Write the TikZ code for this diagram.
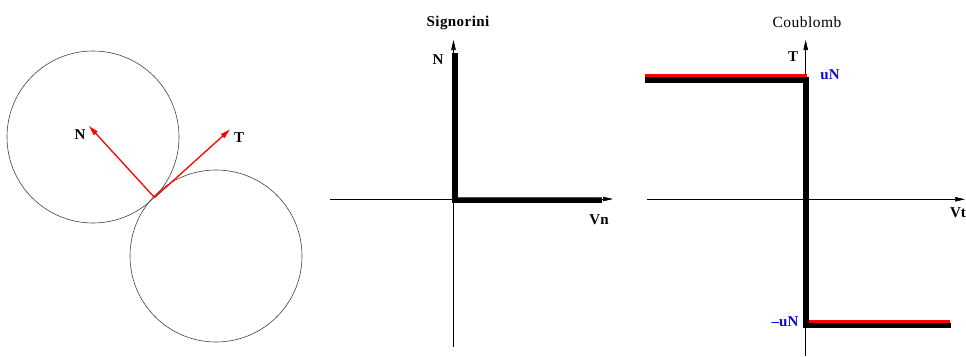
\documentclass[tikz,border=0pt]{standalone}
\usepackage{fontspec}
\setmainfont{Liberation Serif}
\usetikzlibrary{arrows.meta}
\definecolor{lblblue}{RGB}{10,10,210}
\definecolor{vred}{RGB}{255,0,0}
\begin{document}
\begin{tikzpicture}[x=1pt,y=-1pt,
  lbl/.style={font=\fontsize{15}{17}\selectfont\bfseries, inner sep=0pt},
  ttl/.style={font=\fontsize{15.5}{17}\selectfont\addfontfeature{LetterSpace=3}, inner sep=0pt},
  axis/.style={line width=0.6pt, -{Triangle[length=10pt,width=4.5pt]}},
  vec/.style={vred, line width=1.3pt, -{Triangle[length=10pt,width=5pt]}},
  thick curve/.style={line width=5.3pt, line join=miter},
  redline/.style={vred, line width=2.8pt}]
\useasboundingbox (0,0) rectangle (966,356);
% ---- left: two disks in contact
\node[draw=black!75, line width=0.6pt, circle, minimum size=172pt, inner sep=0pt] (c1) at (93,137) {};
\node[draw=black!75, line width=0.6pt, circle, minimum size=172pt, inner sep=0pt] (c2) at (216,256) {};
\coordinate (P) at (154.5,197.5);
\coordinate (Ntip) at (89,126);
\coordinate (Ttip) at (230,129.5);
\draw[vec] (P) -- (Ntip);
\draw[vec] (P) -- (Ttip);
\node[lbl] (Nl) at (80,135) {N};
\node[lbl] (Tl) at (239,138) {T};
% ---- Signorini
\coordinate (s-o) at (453.5,199);
\coordinate (s-xl) at (330,199);
\coordinate (s-xr) at (613,199);
\coordinate (s-yb) at (453.5,347);
\coordinate (s-yt) at (453.5,40);
\draw[axis] (s-xl) -- (s-xr);
\draw[axis] (s-yb) -- (s-yt);
\coordinate (s-a) at (455,53);
\coordinate (s-b) at (455,200);
\coordinate (s-c) at (602,200);
\draw[vred, line width=0.8pt] (453,53.5) -- (457,53.5);
\draw[thick curve] (s-a) -- (s-b) -- (s-c);
\draw[vred, line width=0.6pt] (458,197.6) -- (602,197.6);
\node[lbl, font=\fontsize{15}{17}\selectfont\bfseries\addfontfeature{LetterSpace=3}] (sig) at (458,23) {Signorini};
\node[lbl] (sN) at (438,60) {N};
\node[lbl] (sVn) at (599,220) {Vn};
% ---- Coulomb
\coordinate (k-xl) at (647,199.3);
\coordinate (k-xr) at (965,199.3);
\coordinate (k-yb) at (805.7,356);
\coordinate (k-yt) at (805.7,40);
\draw[axis] (k-xl) -- (k-xr);
\draw[axis] (k-yb) -- (k-yt);
\draw[redline] (645,75.8) -- (806.7,75.8);
\draw[redline] (808,321.8) -- (950,321.8);
\coordinate (k-a) at (645,80);
\coordinate (k-b) at (806,80);
\coordinate (k-c) at (806,325.5);
\coordinate (k-d) at (950.7,325.5);
\draw[thick curve] (k-a) -- (k-b) -- (k-c) -- (k-d);
\node[ttl] (cou) at (807,22) {Coublomb};
\node[lbl] (kT) at (793,57) {T};
\node[lbl, text=lblblue] (kuN) at (830,75) {uN};
\node[lbl, text=lblblue] (kmuN) at (785,322) {–uN};
\node[lbl] (kVt) at (958,213) {Vt};
\end{tikzpicture}
\end{document}
